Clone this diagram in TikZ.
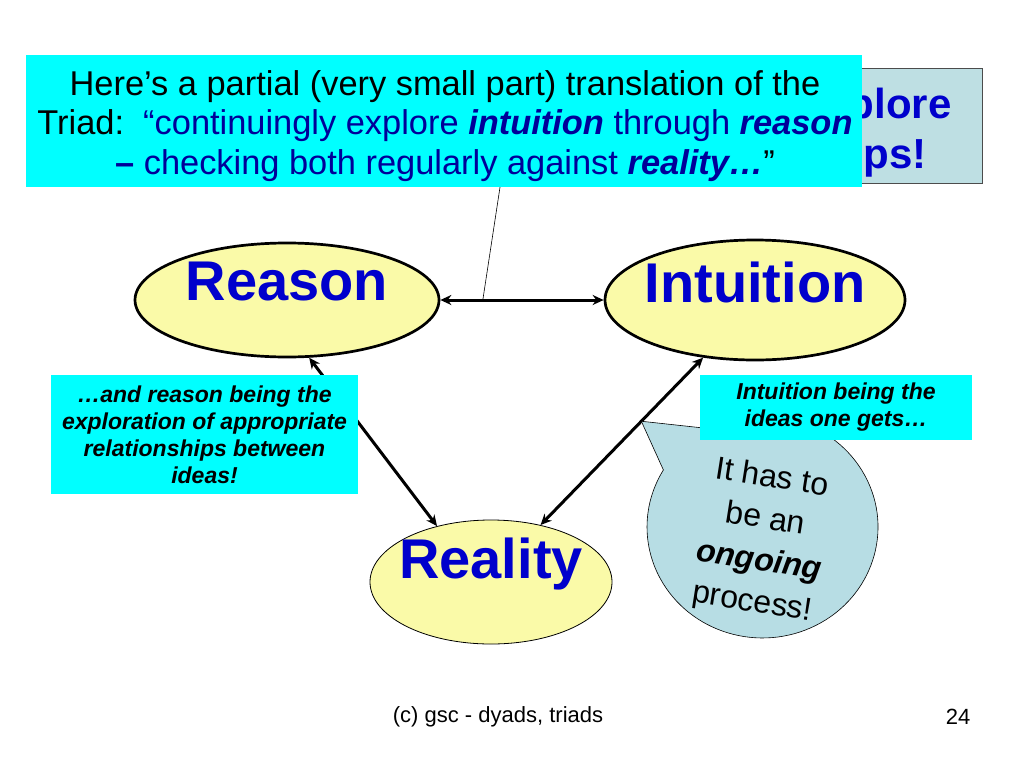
\documentclass[tikz,border=0pt]{standalone}
\usepackage{fontspec}
\setmainfont{Liberation Sans}
\usetikzlibrary{shapes.geometric,arrows.meta,calc}
\definecolor{boxcyan}{RGB}{0,255,255}
\definecolor{ovalfill}{RGB}{250,250,168}
\definecolor{bubblefill}{RGB}{183,221,228}
\definecolor{mottofill}{RGB}{190,223,227}
\definecolor{navy}{RGB}{0,0,153}
\definecolor{wordblue}{RGB}{0,0,204}
\tikzset{
  oval/.style={ellipse, draw, fill=ovalfill, inner sep=0pt},
  bigword/.style={text=wordblue, font=\fontsize{56}{60}\selectfont\bfseries},
  mottoword/.style={anchor=base east, text=wordblue, font=\fontsize{42}{46}\selectfont\bfseries},
  notebox/.style={fill=boxcyan, align=center, inner sep=0pt,
    font=\fontsize{23}{27}\selectfont\bfseries\itshape},
  link/.style={<->, >={Stealth[length=11pt,width=10pt]}, line width=3pt}
}
\begin{document}
\begin{tikzpicture}[x=1pt,y=-1pt]
      \useasboundingbox [fill=white] (0, 0) rectangle (1024, 768);
      % box mostly hidden behind the quote
      \node [draw=black!70, fill=mottofill, line width=1pt, minimum width=290pt,
        minimum height=115pt] (motto) at (837, 125.5) {};
      \node [mottoword] (motto1) at (955, 118) {plore};
      \node [mottoword] (motto2) at (930, 168) {ps!};
      \node [fill=boxcyan, minimum width=836pt, minimum height=132pt,
        inner sep=0pt] (quote) at (444, 121) {};
      \node [align=center, inner sep=0pt, font=\fontsize{34.4}{39.5}\selectfont]
        (quotetext) at (445, 126)
        {Here’s a partial (very small part) translation of the\\
         Triad:\ \ \textcolor{navy}{“continuingly explore \textbf{\textit{intuition}}
         through \textbf{\textit{reason}}}\\
         \textcolor{navy}{\textbf{–} checking both regularly against
         \textbf{\textit{reality…}}}”};
      \node [oval, line width=2.7pt, minimum width=304pt, minimum height=114pt,
        label={[bigword, yshift=18pt]center:Reason}] (reason) at (287, 300) {};
      \node [oval, line width=2.7pt, minimum width=300pt, minimum height=120pt,
        label={[bigword, yshift=18pt]center:Intuition}] (intuition) at (755, 300) {};
      \node [oval, line width=0.8pt, minimum width=242pt, minimum height=124pt,
        label={[bigword, yshift=18pt]center:Reality}] (reality) at (491, 582) {};
      \coordinate (hinge) at ($(reason.east)!0.26!(intuition.west)$);
      \draw [link] (reason.east) -- (intuition.west);
      \draw [link] (reason.-69) -- (reality.134);
      \draw [link] (intuition.-132) -- (reality.49);
      \draw [line width=0.6pt] ([xshift=56pt]quote.south) -- (hinge);
      % speech bubble
      \coordinate (tip) at ($(intuition.-132)!0.38!(reality.49)$);
      \filldraw [fill=bubblefill, line width=0.6pt] (tip) -- (709, 428.6)
        arc [start angle=242.4, end angle=570.9, x radius=115.5, y radius=111] -- cycle;
      \node [rotate=-9, align=center, font=\fontsize{32}{42}\selectfont] (ongoing)
        at (762, 541) {It has to\\be an\\\textbf{\textit{ongoing}}\\process!};
      \node [notebox, minimum width=307pt, minimum height=119pt] (reasonnote)
        at (204.5, 434.5) {…and reason being the\\exploration of appropriate\\
        relationships between\\ideas!};
      \node [notebox, minimum width=272pt, minimum height=65pt] (intuitionnote)
        at (836, 407.5) {Intuition being the\\ideas one gets…};
      \node [font=\fontsize{22}{26}\selectfont] (footer) at (498, 717) {(c) gsc - dyads, triads};
      \node [font=\fontsize{22}{26}\selectfont] (page) at (958, 717) {24};
\end{tikzpicture}
\end{document}
